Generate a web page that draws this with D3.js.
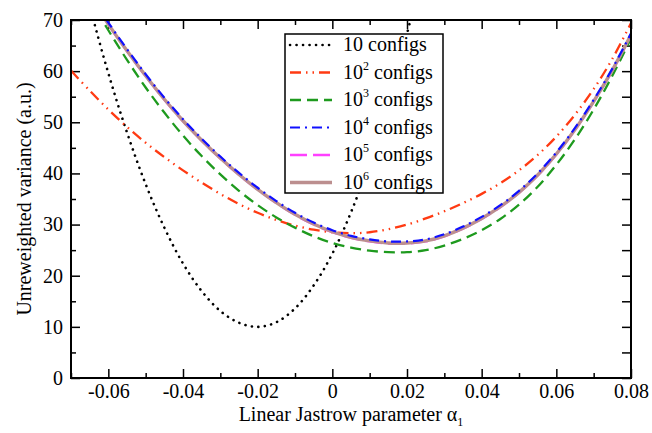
<!DOCTYPE html>
<html>
<head>
<meta charset="utf-8">
<script src="https://cdn.jsdelivr.net/npm/d3@7"></script>
<style>
  body { margin: 0; background: #fff; }
  text { font-family: "Liberation Serif", "Times New Roman", serif; fill: #000; }
</style>
</head>
<body>
<svg id="chart"></svg>
<script>
// alpha_1 grid and variance curves
const alphaGrid = [-0.07, -0.065, -0.06, -0.055, -0.05, -0.045, -0.04, -0.035, -0.03, -0.025,
  -0.02, -0.015, -0.01, -0.005, 0, 0.005, 0.01, 0.015, 0.02, 0.025,
  0.03, 0.035, 0.04, 0.045, 0.05, 0.055, 0.06, 0.065, 0.07, 0.075, 0.08];

const var1e1 = [87.5, 72.8, 59.6, 48.0, 37.9, 29.4, 22.4, 17.0, 13.1, 10.8,
  10.0, 10.9, 13.6, 18.1, 24.3, 32.4, 42.3, 53.9, 67.3, 82.0,
  null, null, null, null, null, null, null, null, null, null, null];
const var1e2 = [60.1, 56.2, 52.5, 49.1, 46.0, 43.2, 40.6, 38.2, 36.0, 34.0,
  32.3, 30.9, 29.8, 29.0, 28.5, 28.3, 28.5, 29.1, 30.0, 31.2,
  32.6, 34.2, 36.0, 38.1, 40.6, 43.6, 47.2, 51.5, 56.5, 62.4, 69.4];
const var1e3 = [80.5, 74.1, 68.0, 62.2, 56.8, 51.9, 47.4, 43.4, 39.8, 36.6,
  33.8, 31.4, 29.4, 27.7, 26.4, 25.5, 24.9, 24.6, 24.6, 25.0,
  25.9, 27.2, 28.9, 31.1, 33.9, 37.4, 41.7, 46.7, 52.5, 59.1, 66.4];
const var1e4 = [81.1, 75.1, 69.5, 64.3, 59.4, 54.8, 50.6, 46.8, 43.3, 40.1,
  37.2, 34.6, 32.3, 30.4, 28.9, 27.8, 27.1, 26.7, 26.7, 27.1,
  28.1, 29.6, 31.5, 33.8, 36.6, 40.0, 44.1, 48.9, 54.4, 60.5, 67.4];
const var1e5 = [80.7, 74.7, 69.1, 63.9, 59.0, 54.4, 50.2, 46.4, 42.9, 39.7,
  36.8, 34.2, 31.9, 30.0, 28.5, 27.4, 26.7, 26.3, 26.3, 26.7,
  27.7, 29.2, 31.1, 33.4, 36.2, 39.6, 43.7, 48.5, 54.0, 60.1, 67.0];
const var1e6 = [80.8, 74.8, 69.2, 64.0, 59.1, 54.5, 50.3, 46.5, 43.0, 39.8,
  36.9, 34.3, 32.0, 30.1, 28.6, 27.5, 26.8, 26.4, 26.4, 26.8,
  27.8, 29.3, 31.2, 33.5, 36.3, 39.7, 43.8, 48.6, 54.1, 60.2, 67.1];

const seriesExp = [null, 2, 3, 4, 5, 6];
const seriesColors = ["#000000", "#ff3a12", "#1e9a1e", "#1010ff", "#ff40ff", "#bc8f8f"];
const seriesDash = ["0.1,6.4", "11,5,1.5,5,1.5,5", "11,6", "10,5,2,5", "17,6", null];
const seriesWidth = [2.6, 2.3, 2.3, 2.2, 2.3, 3.4];
const seriesData = [var1e1, var1e2, var1e3, var1e4, var1e5, var1e6];
const drawOrder = [0, 1, 2, 4, 5, 3];

const xTicks = [-0.06, -0.04, -0.02, 0, 0.02, 0.04, 0.06, 0.08];
const xMinor = [-0.07, -0.05, -0.03, -0.01, 0.01, 0.03, 0.05, 0.07];
const yTicks = [0, 10, 20, 30, 40, 50, 60, 70];
const yMinor = [5, 15, 25, 35, 45, 55, 65];

const width = 652, height = 433;
const margin = {top: 20, left: 71, bottom: 55, right: 21};
const iwidth = width - margin.left - margin.right;
const iheight = height - margin.top - margin.bottom;

const svg = d3.select("#chart").attr("width", width).attr("height", height);

const x = d3.scaleLinear().domain([-0.07, 0.08]).range([0, iwidth]);
const y = d3.scaleLinear().domain([0, 70]).range([iheight, 0]);

svg.append("defs").append("clipPath").attr("id", "plotclip")
  .append("rect").attr("width", iwidth).attr("height", iheight);

const g = svg.append("g").attr("transform", `translate(${margin.left},${margin.top})`);

// plain hyphen like the original, not the unicode minus
const fmt = d => d === 0 ? "0" : d.toFixed(2);

// axes, ticks pointing inward on all four sides
function addAxis(axis, tx, ty, labels) {
  const a = g.append("g").attr("transform", `translate(${tx},${ty})`).call(axis);
  a.select(".domain").remove();
  a.selectAll("line").attr("stroke", "#000").attr("stroke-width", 1.5);
  a.selectAll("text").style("font-size", labels ? "20px" : "0px")
    .style("font-family", '"Liberation Serif", "Times New Roman", serif');
  return a;
}

addAxis(d3.axisBottom(x).tickValues(xTicks).tickFormat(fmt).tickSize(-9).tickPadding(6), 0, iheight, true);
addAxis(d3.axisBottom(x).tickValues(xMinor).tickFormat("").tickSize(-5), 0, iheight, false);
addAxis(d3.axisTop(x).tickValues(xTicks).tickFormat("").tickSize(-9), 0, 0, false);
addAxis(d3.axisTop(x).tickValues(xMinor).tickFormat("").tickSize(-5), 0, 0, false);
addAxis(d3.axisLeft(y).tickValues(yTicks).tickFormat(d3.format("d")).tickSize(-9).tickPadding(8), 0, 0, true);
addAxis(d3.axisLeft(y).tickValues(yMinor).tickFormat("").tickSize(-5), 0, 0, false);
addAxis(d3.axisRight(y).tickValues(yTicks).tickFormat("").tickSize(-9), iwidth, 0, false);
addAxis(d3.axisRight(y).tickValues(yMinor).tickFormat("").tickSize(-9), iwidth, 0, false);

// curves
const line = d3.line()
  .defined(d => d[1] !== null)
  .x(d => x(d[0]))
  .y(d => y(d[1]))
  .curve(d3.curveCatmullRom.alpha(0.5));

const curves = g.append("g").attr("clip-path", "url(#plotclip)");
drawOrder.forEach(i => {
  const pts = alphaGrid.map((a, k) => [a, seriesData[i][k]]);
  curves.append("path")
    .datum(pts)
    .attr("d", line)
    .attr("fill", "none")
    .attr("stroke", seriesColors[i])
    .attr("stroke-width", seriesWidth[i])
    .attr("stroke-linecap", i === 0 ? "round" : "butt")
    .attr("stroke-dasharray", seriesDash[i]);
});

// frame
g.append("rect")
  .attr("width", iwidth).attr("height", iheight)
  .attr("fill", "none").attr("stroke", "#000").attr("stroke-width", 2);

// legend
const lg = svg.append("g").attr("transform", "translate(285,34)");
lg.append("rect").attr("width", 158).attr("height", 159)
  .attr("fill", "#fff").attr("stroke", "#000").attr("stroke-width", 1.5);

seriesExp.forEach((e, i) => {
  const cy = 11 + i * 27.5;
  lg.append("line")
    .attr("x1", 5).attr("x2", 47).attr("y1", cy).attr("y2", cy)
    .attr("stroke", seriesColors[i])
    .attr("stroke-width", seriesWidth[i])
    .attr("stroke-linecap", i === 0 ? "round" : "butt")
    .attr("stroke-dasharray", seriesDash[i]);
  const t = lg.append("text").attr("x", 58).attr("y", cy + 6).style("font-size", "20px");
  if (e === null) {
    t.text("10 configs");
  } else {
    t.append("tspan").text("10");
    t.append("tspan").attr("dy", -9).style("font-size", "12px").text(e);
    t.append("tspan").attr("dy", 9).text(" configs");
  }
});

// axis titles
const xt = svg.append("text")
  .attr("x", margin.left + iwidth / 2).attr("y", 421)
  .attr("text-anchor", "middle").style("font-size", "20px");
xt.append("tspan").text("Linear Jastrow parameter \u03b1");
xt.append("tspan").attr("dy", 5).style("font-size", "12px").text("1");

svg.append("text")
  .attr("transform", `translate(31,${margin.top + iheight / 2}) rotate(-90)`)
  .attr("text-anchor", "middle").style("font-size", "20px")
  .text("Unreweighted variance (a.u.)");
</script>
</body>
</html>
